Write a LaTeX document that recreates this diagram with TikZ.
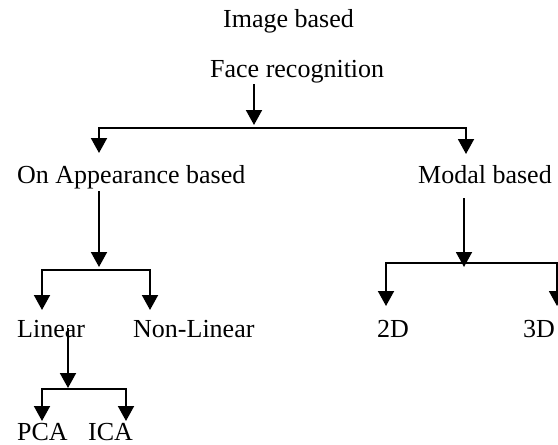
\documentclass[tikz,border=0pt]{standalone}
\usepackage{fontspec}
\setmainfont{Liberation Serif}
\usetikzlibrary{arrows.meta}
\begin{document}
\begin{tikzpicture}[x=1pt,y=-1pt,
  lbl/.style={inner sep=0pt, anchor=base west, font=\fontsize{26}{30}\selectfont},
  arr/.style={line width=1.9pt, -{Triangle[width=16pt,length=15pt]}}]
\useasboundingbox (0,0) rectangle (558,445);
% labels
\node[lbl] (img) at (223,27) {Image based};
\node[lbl] (face) at (210,77) {Face recognition};
\node[lbl] (app) at (17,183) {On Appearance based};
\node[lbl] (modal) at (418,183) {Modal based};
\node[lbl] (lin) at (17,337) {Linear};
\node[lbl] (nonlin) at (133,337) {Non-Linear};
\node[lbl] (d2) at (377,337) {2D};
\node[lbl] (d3) at (523,337) {3D};
\node[lbl] (pca) at (17,440) {PCA};
\node[lbl] (ica) at (88,440) {ICA};
% junction coordinates
\coordinate (fs) at (254,84);
\coordinate (fj) at (254,128);
\coordinate (as) at (99,191);
\coordinate (aj) at (99,270);
\coordinate (ms) at (464,198);
\coordinate (mj) at (464,263);
\coordinate (ls) at (68,328);
\coordinate (lj) at (68,389);
% face recognition
\draw[arr] (fs) -- ([yshift=3pt]fj);
\draw[arr] (fj) -| (99,153);
\draw[arr] (fj) -| (466,154);
% appearance
\draw[arr] (as) -- ([yshift=3pt]aj);
\draw[arr] (aj) -| (42,310);
\draw[arr] (aj) -| (150,310);
% modal
\draw[arr] (ms) -- ([yshift=-4pt]mj);
\draw[arr] (mj) -| (386,306);
\draw[arr] (mj) -| (557,306);
% linear
\draw[arr] (ls) -- ([yshift=1pt]lj);
\draw[arr] (lj) -| (42,421);
\draw[arr] (lj) -| (126,421);
\end{tikzpicture}
\end{document}
